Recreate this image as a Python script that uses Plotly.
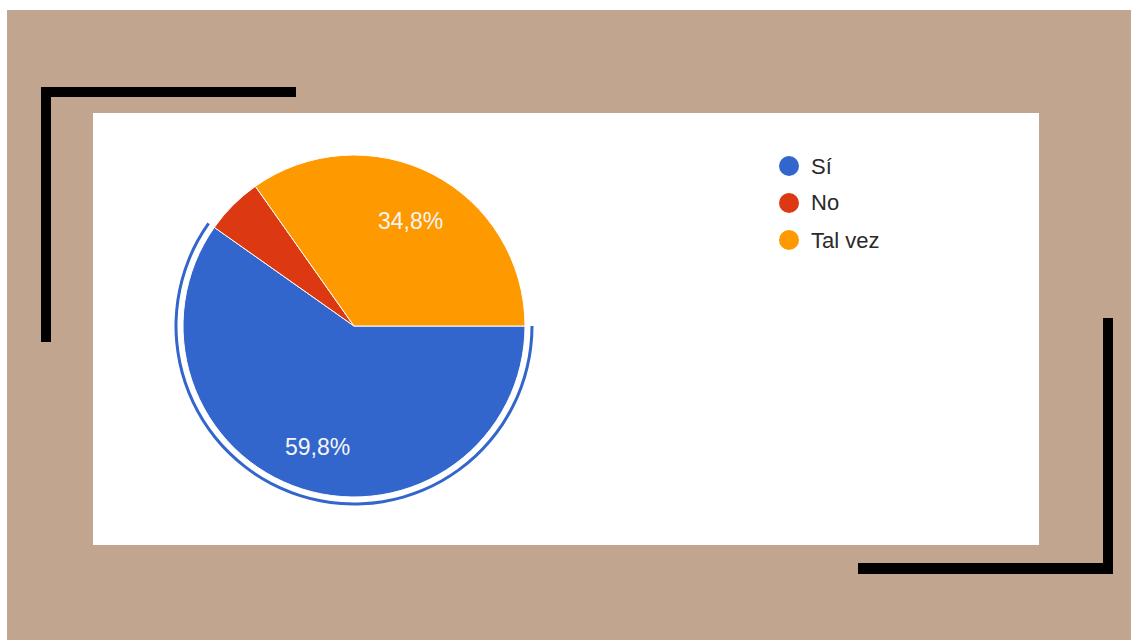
import math
import plotly.graph_objects as go

# Survey answers
labels = ["Sí", "No", "Tal vez"]
counts = [55, 5, 32]
colors = ["#3366CC", "#DC3912", "#FF9900"]

W, H = 1131, 640
TAN = "#C1A58F"
FONT = "Liberation Sans, Arial, sans-serif"

# pie geometry in page pixels
cx, cy, r = 354, 326, 171
ring_outer, ring_inner = 179.5, 176.5


def px(x):
    return x / W


def py(y):
    return 1 - y / H


def dom(rad):
    return dict(x=[px(cx - rad), px(cx + rad)], y=[py(cy + rad), py(cy - rad)])


fig = go.Figure()

fig.add_trace(go.Pie(
    labels=labels, values=counts, sort=False, direction="clockwise", rotation=90,
    marker=dict(colors=colors, line=dict(color="white", width=1)),
    textinfo="none", domain=dom(r), showlegend=False, hoverinfo="label+percent",
))

# highlight ring around the selected slice
ring_colors = [colors[0]] + ["rgba(0,0,0,0)"] * (len(counts) - 1)
fig.add_trace(go.Pie(
    labels=labels, values=counts, sort=False, direction="clockwise", rotation=90,
    marker=dict(colors=ring_colors, line=dict(width=0)),
    hole=ring_inner / ring_outer, textinfo="none", domain=dom(ring_outer),
    showlegend=False, hoverinfo="skip",
))


def rect(x0, y0, x1, y1, color):
    return dict(type="rect", xref="paper", yref="paper", layer="below",
                x0=px(x0), x1=px(x1), y0=py(y1), y1=py(y0),
                fillcolor=color, line=dict(width=0))


shapes = [
    rect(7, 10, W, H, TAN),
    rect(93, 113, 1039, 545, "white"),
    # corner brackets
    rect(41, 87, 296, 97, "black"),
    rect(41, 87, 51, 342, "black"),
    rect(1103, 318, 1113, 574, "black"),
    rect(858, 563, 1113, 574, "black"),
]

annotations = []

# slice percentage labels
total = sum(counts)
cum = 0
for lab, v in zip(labels, counts):
    frac = v / total
    mid = -360 * (cum + v / 2) / total
    cum += v
    if frac < 0.08:
        continue
    a = math.radians(mid)
    lx = cx + 0.715 * r * math.cos(a)
    ly = cy - 0.715 * r * math.sin(a) + 4
    txt = f"{frac * 100:.1f}%".replace(".", ",")
    annotations.append(dict(x=px(lx), y=py(ly), xref="paper", yref="paper",
                            text=txt, showarrow=False, xanchor="center", yanchor="middle",
                            font=dict(family=FONT, size=23, color="#F5F5F5")))

# legend
for i, (lab, col) in enumerate(zip(labels, colors)):
    ly = 166 + 37 * i
    shapes.append(dict(type="circle", xref="paper", yref="paper",
                       x0=px(779), x1=px(799), y0=py(ly + 10), y1=py(ly - 10),
                       fillcolor=col, line=dict(width=0)))
    annotations.append(dict(x=px(809), y=py(ly), xref="paper", yref="paper",
                            text=lab, showarrow=False, xanchor="left", yanchor="middle",
                            font=dict(family=FONT, size=22, color="#2A2A2A")))

fig.update_layout(
    width=W, height=H, margin=dict(l=0, r=0, t=0, b=0),
    paper_bgcolor="white", plot_bgcolor="white",
    shapes=shapes, annotations=annotations,
)

fig.write_html("out.html")
